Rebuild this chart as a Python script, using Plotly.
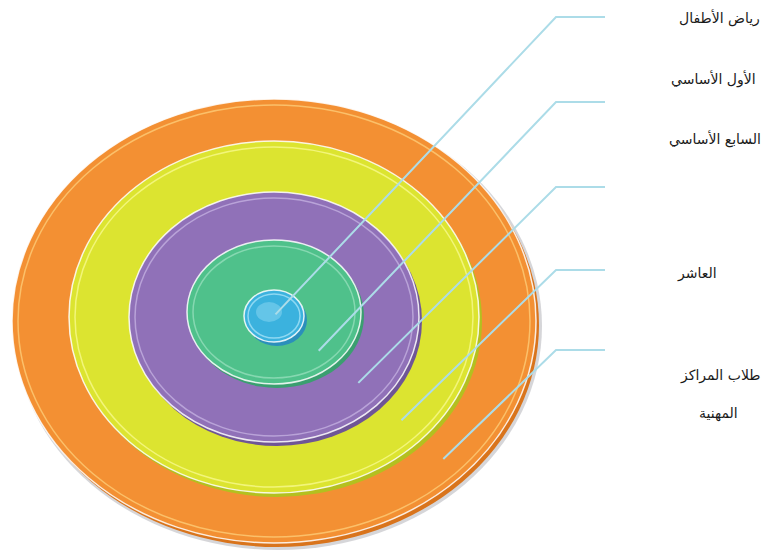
import numpy as np
import plotly.graph_objects as go

# ---- data ----
categories = ["رياض الأطفال", "الأول الأساسي", "السابع الأساسي", "العاشر", "طلاب المراكز", "المهنية"]
ring_names = ["رياض الأطفال", "الأول الأساسي", "السابع الأساسي", "العاشر", "طلاب المراكز المهنية"]
ring_level = [1, 2, 3, 4, 5]

# ---- layout / style constants ----
W, H = 764, 551
CX, CY = 274, 317
RING_RX = [30, 87, 145, 205, 262]
RING_RY = [26, 72, 125, 176, 222]
RING_DY = [-1, -5, 0, 0, 4]
RING_FILL = ["#3BB2DE", "#4FC18B", "#9071B8", "#DCE430", "#F39033"]
RING_RIM = ["#2B8FBB", "#3A9F70", "#6F5596", "#B3C01F", "#D9741C"]
RING_HI = ["#8ED8F2", "#86D8B1", "#B9A3D8", "#F2F57A", "#FBC06A"]

LINE_START_R = [3, 56, 107, 164, 221]   # distance of leader start from centre
LINE_ANGLE = [-60, 37, 38, 39, 40]
ELBOW_X = 556
ELBOW_Y = [17, 102, 187, 270, 350]
LINE_END_X = 605
LINE_COLOR = "#ACDCE8"

LABEL_X = [762, 758, 763, 719, 762, 740]
LABEL_Y = [18, 79, 139, 273, 375, 413]

fig = go.Figure()


def ellipse(cx, cy, rx, ry, **kw):
    fig.add_shape(type="circle", xref="x", yref="y", layer="below",
                  x0=cx - rx, x1=cx + rx, y0=cy - ry, y1=cy + ry, **kw)


# outer soft shadow
ellipse(CX + 4, CY + RING_DY[4] + 5, RING_RX[4] + 2, RING_RY[4] + 2,
        fillcolor="rgba(120,120,130,0.30)", line=dict(width=0))

for i in reversed(range(len(ring_level))):
    cy = CY + RING_DY[i]
    rx, ry = RING_RX[i], RING_RY[i]
    # darker rim (3D thickness)
    ellipse(CX + 3, cy + 4, rx, ry, fillcolor=RING_RIM[i], line=dict(width=0))
    # main face
    ellipse(CX, cy, rx, ry, fillcolor=RING_FILL[i],
            line=dict(color="rgba(255,255,255,0.85)", width=1.5))
    # inner highlight
    ins = 6 if i > 0 else 4
    ellipse(CX, cy, rx - ins, ry - ins, fillcolor="rgba(0,0,0,0)",
            line=dict(color=RING_HI[i], width=1.5))

# blue gloss
ellipse(CX - 5, CY - 5, 13, 10, fillcolor="rgba(150,220,245,0.45)", line=dict(width=0))

# leader lines
for i in range(len(ring_level)):
    a = np.deg2rad(LINE_ANGLE[i])
    sx = CX + LINE_START_R[i] * np.cos(a)
    sy = CY + LINE_START_R[i] * np.sin(a)
    fig.add_trace(go.Scatter(
        x=[sx, ELBOW_X, LINE_END_X], y=[sy, ELBOW_Y[i], ELBOW_Y[i]],
        mode="lines", line=dict(color=LINE_COLOR, width=2),
        hoverinfo="text", text=ring_names[i], showlegend=False))

# labels
for i, t in enumerate(categories):
    fig.add_annotation(x=LABEL_X[i], y=LABEL_Y[i], xref="x", yref="y",
                       text=t, showarrow=False, xanchor="right", yanchor="middle",
                       font=dict(family="DejaVu Sans, Arial, sans-serif", size=14, color="#1a1a1a"))

fig.update_xaxes(range=[0, W], visible=False, fixedrange=True)
fig.update_yaxes(range=[H, 0], visible=False, fixedrange=True)
fig.update_layout(width=W, height=H, margin=dict(l=0, r=0, t=0, b=0),
                  paper_bgcolor="white", plot_bgcolor="white", showlegend=False)

fig.write_html("out.html", config={"displayModeBar": False},
               post_script="document.body.style.margin='0';document.body.style.overflow='hidden';")
